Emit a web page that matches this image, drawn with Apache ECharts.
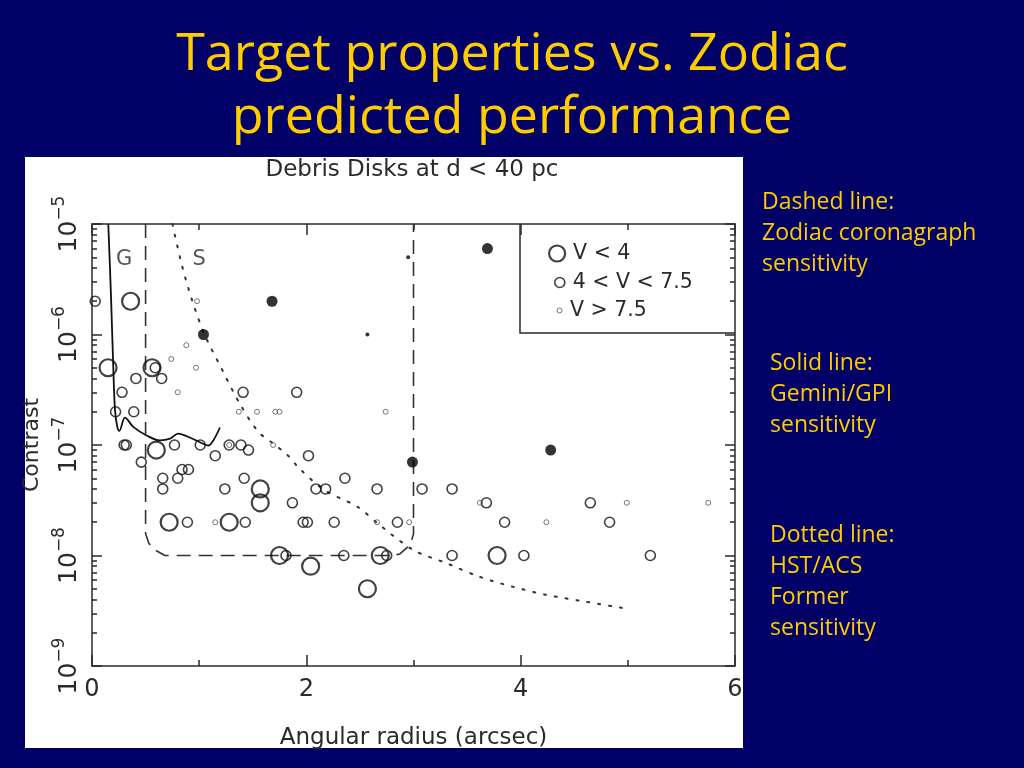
<!DOCTYPE html>
<html>
<head>
<meta charset="utf-8">
<script src="https://cdn.jsdelivr.net/npm/echarts@6.0.0/dist/echarts.min.js"></script>
<style>
html,body{margin:0;padding:0;background:#000066;}
#chart{width:1024px;height:768px;}
</style>
</head>
<body>
<div id="chart"></div>
<script>
// ---- data ----
// open circles, V < 4 : [angular radius (arcsec), contrast]
const brightStars = [[0.36,2e-6],[0.15,5e-7],[0.56,5e-7],[0.60,9e-8],[0.72,2e-8],[1.28,2e-8],[1.57,4e-8],[1.57,3e-8],[1.75,1e-8],[2.04,8e-9],[2.69,1e-8],[2.57,5e-9],[3.78,1e-8]];
// open circles, 4 < V < 7.5
const midStars = [[0.03,2e-6],[0.59,5e-7],[0.41,4e-7],[0.65,4e-7],[0.28,3e-7],[1.41,3e-7],[1.91,3e-7],[0.22,2e-7],[0.39,2e-7],[0.30,1e-7],[0.32,1e-7],[0.77,1e-7],[1.01,1e-7],[1.28,1e-7],[1.39,1e-7],[1.46,9e-8],[1.15,8e-8],[2.02,8e-8],[0.46,7e-8],[0.84,6e-8],[0.90,6e-8],[0.66,5e-8],[0.80,5e-8],[1.42,5e-8],[2.36,5e-8],[0.66,4e-8],[1.24,4e-8],[2.09,4e-8],[2.18,4e-8],[2.66,4e-8],[3.08,4e-8],[3.36,4e-8],[1.87,3e-8],[3.68,3e-8],[4.65,3e-8],[0.89,2e-8],[1.43,2e-8],[1.97,2e-8],[2.01,2e-8],[2.26,2e-8],[2.85,2e-8],[3.85,2e-8],[4.83,2e-8],[1.81,1e-8],[2.35,1e-8],[2.75,1e-8],[3.36,1e-8],[4.03,1e-8],[5.21,1e-8]];
// open circles, V > 7.5
const faintStars = [[0.98,2e-6],[0.88,8e-7],[0.74,6e-7],[0.97,5e-7],[0.80,3e-7],[1.37,2e-7],[1.54,2e-7],[1.71,2e-7],[1.75,2e-7],[2.74,2e-7],[1.28,1e-7],[1.69,1e-7],[3.62,3e-8],[4.99,3e-8],[5.75,3e-8],[1.15,2e-8],[2.66,2e-8],[2.96,2e-8],[4.24,2e-8]];
// filled dots
const filledLarge = [[1.68,2e-6],[1.04,1e-6],[3.69,6e-6],[2.99,7e-8],[4.28,9e-8]];
const filledSmall = [[2.95,5e-6],[2.57,1e-6]];
// sensitivity curves
const geminiCurve = [[0.152,1e-5],[0.177,2.26e-6],[0.199,4.9e-7],[0.215,2.06e-7],[0.236,1.46e-7],[0.255,1.34e-7],[0.308,1.77e-7],[0.385,1.46e-7],[0.51,1.22e-7],[0.634,1.10e-7],[0.728,1.14e-7],[0.805,1.27e-7],[0.883,1.20e-7],[1.007,1.06e-7],[1.085,9.9e-8],[1.132,1.10e-7],[1.194,1.44e-7]];
const zodiacCurve = [[0.50,1e-5],[0.50,1.58e-8],[0.53,1.29e-8],[0.59,1.12e-8],[0.68,1e-8],[2.80,1e-8],[2.87,1.03e-8],[2.94,1.18e-8],[2.98,1.36e-8],[3.00,1.56e-8],[3.00,1e-5]];
const hstCurve = [[0.75,1e-5],[0.84,4.2e-6],[0.93,2.1e-6],[1.05,1e-6],[1.21,4.9e-7],[1.37,2.45e-7],[1.55,1.32e-7],[1.68,1.05e-7],[1.83,8e-8],[1.93,6.2e-8],[2.17,3.9e-8],[2.48,2.75e-8],[2.68,1.9e-8],[3.00,1.12e-8],[3.31,8.5e-9],[3.62,6.4e-9],[3.93,5.2e-9],[4.24,4.4e-9],[4.55,3.9e-9],[4.99,3.3e-9]];
// region labels
const regionLabels = [{name:'G', value:[0.30,4.8e-6]},{name:'S', value:[1.00,4.8e-6]}];
// ticks
const yTickExponents = [-9,-8,-7,-6,-5];
const yTickLabels = ['−9','−8','−7','−6','−5'];
const legendNames = ['V < 4','4 < V < 7.5','V > 7.5'];

const yMinorTicks = [];
yTickExponents.slice(0,4).forEach(e => { for (let k = 2; k <= 9; k++) yMinorTicks.push(e + Math.log10(k)); });

const INK = '#2a2a2a';
const PF = 'DejaVu Sans';
const SF = 'Open Sans';
const YEL = '#FFCC00';

const frameLine = {show:true, lineStyle:{color:INK, width:1.5}};
const tickStyle = {color:INK, width:1.5};
const sideText = {color:YEL, fontFamily:SF, fontWeight:'normal', fontSize:23, lineHeight:31};
const legendText = {fontFamily:PF, fontSize:20.5, color:INK, lineHeight:20, padding:[0,0,0,3]};

const chart = echarts.init(document.getElementById('chart'), null, {renderer:'canvas'});
chart.setOption({
  backgroundColor:'#000066',
  animation:false,
  title:[
    {text:'Target properties vs. Zodiac\npredicted performance', left:512, top:24, textAlign:'center', padding:0,
     textStyle:{color:YEL, fontFamily:SF, fontWeight:'normal', fontSize:52, lineHeight:63}},
    {text:'Debris Disks at d < 40 pc', left:412, top:159, textAlign:'center', padding:0,
     textStyle:{color:INK, fontFamily:PF, fontWeight:'normal', fontSize:23, lineHeight:22}},
    {text:'Dashed line:\nZodiac coronagraph\nsensitivity', left:762, top:187, padding:0, textStyle:sideText},
    {text:'Solid line:\nGemini/GPI\nsensitivity', left:770, top:348, padding:0, textStyle:sideText},
    {text:'Dotted line:\nHST/ACS\nFormer\nsensitivity', left:770, top:520, padding:0, textStyle:sideText}
  ],
  graphic:[
    {type:'rect', z:-10, silent:true, shape:{x:25, y:157, width:718, height:591}, style:{fill:'#ffffff'}},
    {type:'polyline', z:5, silent:true, shape:{points:[[520,224],[520,333],[735,333]]}, style:{stroke:INK, lineWidth:1.5, fill:null}}
  ],
  legend:[
    {data:[{name:legendNames[0], icon:'circle', itemStyle:{color:'transparent', borderColor:'#111', borderWidth:2.2}}],
     left:548, top:243, itemWidth:16, itemHeight:16, padding:0, selectedMode:false, textStyle:legendText},
    {data:[{name:legendNames[1], icon:'circle', itemStyle:{color:'transparent', borderColor:'#111', borderWidth:1.6}}],
     left:554, top:272, itemWidth:10, itemHeight:10, padding:0, selectedMode:false, textStyle:legendText},
    {data:[{name:legendNames[2], icon:'circle', itemStyle:{color:'transparent', borderColor:'#555', borderWidth:1}}],
     left:556.5, top:300, itemWidth:5, itemHeight:5, padding:0, selectedMode:false, textStyle:legendText}
  ],
  grid:{left:92, top:224, width:643, height:442, containLabel:false},
  xAxis:[
    {type:'value', min:0, max:6, interval:2, position:'bottom',
     axisLine:frameLine, axisTick:{inside:true, length:11, lineStyle:tickStyle},
     minorTick:{show:true, splitNumber:2, length:6, lineStyle:tickStyle},
     splitLine:{show:false}, minorSplitLine:{show:false},
     axisLabel:{fontFamily:PF, fontSize:24, color:INK, margin:12},
     name:'Angular radius (arcsec)', nameLocation:'middle', nameGap:61,
     nameTextStyle:{fontFamily:PF, fontSize:23, color:INK}},
    {type:'value', min:0, max:6, interval:2, position:'top',
     axisLine:frameLine, axisTick:{inside:true, length:11, lineStyle:tickStyle},
     minorTick:{show:true, splitNumber:2, length:6, lineStyle:tickStyle},
     splitLine:{show:false}, minorSplitLine:{show:false}, axisLabel:{show:false}}
  ],
  yAxis:[
    {type:'log', logBase:10, min:1e-9, max:1e-5, show:false},
    {type:'value', min:-9, max:-5, interval:1, position:'left',
     axisLine:frameLine, axisTick:{inside:true, length:10, lineStyle:tickStyle},
     splitLine:{show:false},
     axisLabel:{rotate:90, align:'center', verticalAlign:'bottom', margin:10,
       formatter:function(v){ const s = yTickLabels[yTickExponents.indexOf(Math.round(v))]; return '{b|10}{s|' + s + '}'; },
       rich:{
         b:{fontFamily:PF, fontSize:25, color:INK, lineHeight:26, verticalAlign:'bottom'},
         s:{fontFamily:PF, fontSize:17, color:INK, lineHeight:18, verticalAlign:'bottom', padding:[0,0,14,0]}
       }},
     name:'Contrast', nameLocation:'middle', nameGap:46, nameRotate:90,
     nameTextStyle:{fontFamily:PF, fontSize:22, color:INK}},
    {type:'value', min:-9, max:-5, position:'left', axisLine:{show:false},
     axisTick:{inside:true, length:5, lineStyle:tickStyle, customValues:yMinorTicks},
     axisLabel:{show:false}, splitLine:{show:false}},
    {type:'value', min:-9, max:-5, interval:1, position:'right',
     axisLine:frameLine, axisTick:{inside:true, length:10, lineStyle:tickStyle},
     axisLabel:{show:false}, splitLine:{show:false}},
    {type:'value', min:-9, max:-5, position:'right', axisLine:{show:false},
     axisTick:{inside:true, length:5, lineStyle:tickStyle, customValues:yMinorTicks},
     axisLabel:{show:false}, splitLine:{show:false}}
  ],
  series:[
    {name:'Gemini/GPI', type:'line', xAxisIndex:0, yAxisIndex:0, data:geminiCurve, symbol:'none', smooth:0.35,
     lineStyle:{color:'#111', width:1.8}, z:3, silent:true},
    {name:'Zodiac', type:'line', xAxisIndex:0, yAxisIndex:0, data:zodiacCurve, symbol:'none',
     lineStyle:{color:'#333', width:1.6, type:[14,8]}, z:3, silent:true},
    {name:'HST/ACS', type:'line', xAxisIndex:0, yAxisIndex:0, data:hstCurve, symbol:'none', smooth:0.3,
     lineStyle:{color:'#333', width:2, type:[2,9], cap:'round'}, z:3, silent:true},
    {name:legendNames[0], type:'scatter', xAxisIndex:0, yAxisIndex:0, data:brightStars, symbol:'circle', symbolSize:17,
     itemStyle:{color:'transparent', borderColor:'#111', borderWidth:2.2}, z:4, silent:true},
    {name:legendNames[1], type:'scatter', xAxisIndex:0, yAxisIndex:0, data:midStars, symbol:'circle', symbolSize:10,
     itemStyle:{color:'transparent', borderColor:'#111', borderWidth:1.6}, z:4, silent:true},
    {name:legendNames[2], type:'scatter', xAxisIndex:0, yAxisIndex:0, data:faintStars, symbol:'circle', symbolSize:5,
     itemStyle:{color:'transparent', borderColor:'#555', borderWidth:1}, z:4, silent:true},
    {name:'filledLarge', type:'scatter', xAxisIndex:0, yAxisIndex:0, data:filledLarge, symbol:'circle', symbolSize:11,
     itemStyle:{color:'#000'}, z:4, silent:true},
    {name:'filledSmall', type:'scatter', xAxisIndex:0, yAxisIndex:0, data:filledSmall, symbol:'circle', symbolSize:4,
     itemStyle:{color:'#000'}, z:4, silent:true},
    {name:'regions', type:'scatter', xAxisIndex:0, yAxisIndex:0, data:regionLabels, symbolSize:0, silent:true,
     label:{show:true, position:'inside', formatter:'{b}', fontFamily:PF, fontSize:21, color:INK}}
  ]
});
</script>
</body>
</html>
